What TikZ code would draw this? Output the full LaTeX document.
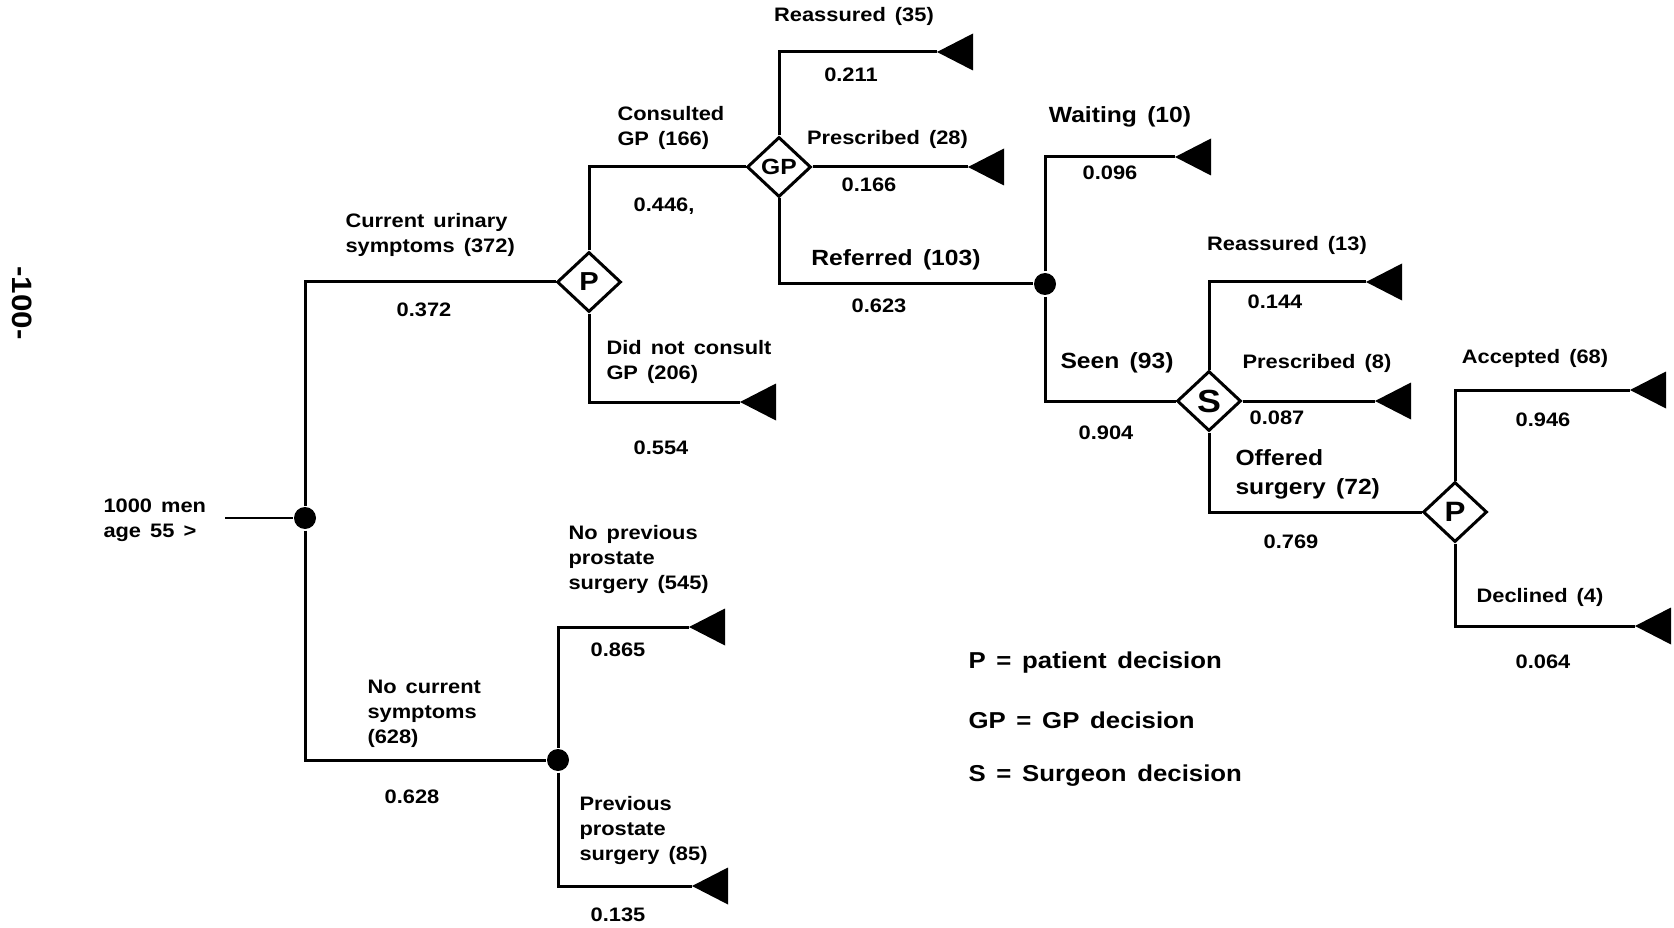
\documentclass[tikz,border=0pt]{standalone}
\usepackage{fontspec}
\setmainfont{Liberation Sans}[FakeStretch=1.12, WordSpace=1.5]
\usetikzlibrary{shapes.geometric}
\begin{document}
\begin{tikzpicture}[x=1pt,y=-1pt,
  line width=3pt,
  chance/.style={circle, fill=black, inner sep=0pt, minimum size=22pt},
  dec/.style={diamond, draw, line width=3pt, inner sep=0pt, minimum width=64pt, minimum height=60pt, font=\fontsize{26}{26}\selectfont\bfseries},
  lbl/.style={font=\fontsize{19.5}{25}\selectfont\bfseries, inner sep=0pt, align=left},
  med/.style={font=\fontsize{22}{29}\selectfont\bfseries, inner sep=0pt, align=left},
  leg/.style={font=\fontsize{23}{23}\selectfont\bfseries, inner sep=0pt, anchor=west},
  term/.style={fill=black, line width=0pt}
]
\useasboundingbox (0,0) rectangle (1674,928);

% page number
\node[font=\fontsize{28}{28}\selectfont\bfseries, rotate=-90, inner sep=0pt] (pg) at (22,303) {-100-};

% decision / chance nodes
\coordinate (in) at (225,518);
\node[chance] (root) at (305,518) {};
\node[dec] (P1) at (589,282) {P};
\node[dec, font=\fontsize{22}{22}\selectfont\bfseries] (GP) at (779,167) {GP};
\node[chance] (C3) at (1045,284) {};
\node[dec, font=\fontsize{32}{32}\selectfont\bfseries] (S) at (1209,401) {S};
\node[dec, font=\fontsize{28}{28}\selectfont\bfseries] (P2) at (1455,512) {P};
\node[chance] (C2) at (558,760) {};

% terminal points
\coordinate (tRe35) at (937,52);
\coordinate (tPr28) at (968,167);
\coordinate (tDnc) at (740,402);
\coordinate (tWait) at (1175,157);
\coordinate (tRe13) at (1366,282);
\coordinate (tPr8) at (1375,401);
\coordinate (tAcc) at (1630,390);
\coordinate (tDec) at (1635,626);
\coordinate (tNps) at (689,627);
\coordinate (tPs) at (692,886);

\foreach \t in {tRe35,tPr28,tDnc,tWait,tRe13,tPr8,tAcc,tDec,tNps,tPs}{
  \fill[term] (\t) -- ++(36,-18.5) -- ++(0,37) -- cycle;
}

% connectors
\draw[line width=2pt] (in) -- (root);
\draw (root) |- (P1.west);
\draw (root) |- (C2.west);
\draw (P1.north) |- (GP.west);
\draw (P1.south) |- (tDnc);
\draw (GP.north) |- (tRe35);
\draw (GP.east) -- (tPr28);
\draw (GP.south) |- (C3.west);
\draw (C3.north) |- (tWait);
\draw (C3.south) |- (S.west);
\draw (S.north) |- (tRe13);
\draw (S.east) -- (tPr8);
\draw (S.south) |- (P2.west);
\draw (P2.north) |- (tAcc);
\draw (P2.south) |- (tDec);
\draw (C2.north) |- (tNps);
\draw (C2.south) |- (tPs);

% labels
\node[lbl, anchor=west] (l1000) at (102,520) {1000 men\\age 55 >};
\node[lbl, anchor=west] (lcur) at (344,235) {Current urinary\\symptoms (372)};
\node[lbl] (p372) at (424,310) {0.372};
\node[lbl, anchor=west] (lcons) at (616,127.5) {Consulted\\GP (166)};
\node[lbl] (p446) at (664,206) {0.446,};
\node[lbl, anchor=west] (ldnc) at (605,361.5) {Did not consult\\GP (206)};
\node[lbl] (p554) at (661,448) {0.554};
\node[lbl] (lre35) at (854,16.5) {Reassured (35)};
\node[lbl] (p211) at (851,74.5) {0.211};
\node[lbl] (lpr28) at (887.5,139.5) {Prescribed (28)};
\node[lbl] (p166) at (869,184.5) {0.166};
\node[med] (lref) at (896,259.5) {Referred (103)};
\node[lbl] (p623) at (879,305.5) {0.623};

\node[med] (lwait) at (1120,117) {Waiting (10)};
\node[lbl] (p096) at (1110,173) {0.096};
\node[lbl] (lre13) at (1287,245) {Reassured (13)};
\node[lbl] (p144) at (1275,302) {0.144};
\node[med] (lseen) at (1117,363) {Seen (93)};
\node[lbl] (p904) at (1106,433) {0.904};
\node[lbl] (lpr8) at (1317,363) {Prescribed (8)};
\node[lbl] (p087) at (1277,418) {0.087};
\node[med, anchor=west] (loff) at (1234,474.5) {Offered\\surgery (72)};
\node[lbl] (p769) at (1291,542) {0.769};
\node[lbl] (lacc) at (1535,358) {Accepted (68)};
\node[lbl] (p946) at (1543,420) {0.946};
\node[lbl] (ldec) at (1540,597) {Declined (4)};
\node[lbl] (p064) at (1543,662) {0.064};

\node[lbl, anchor=west] (lnps) at (567,559.5) {No previous\\prostate\\surgery (545)};
\node[lbl] (p865) at (618,650) {0.865};
\node[lbl, anchor=west] (lncs) at (366,713.5) {No current\\symptoms\\(628)};
\node[lbl] (p628) at (412,797) {0.628};
\node[lbl, anchor=west] (lps) at (578,830.5) {Previous\\prostate\\surgery (85)};
\node[lbl] (p135) at (618,915) {0.135};

% legend
\node[leg] (leg1) at (967,663) {P = patient decision};
\node[leg] (leg2) at (967,720) {GP = GP decision};
\node[leg] (leg3) at (967,776) {S = Surgeon decision};
\end{tikzpicture}
\end{document}
